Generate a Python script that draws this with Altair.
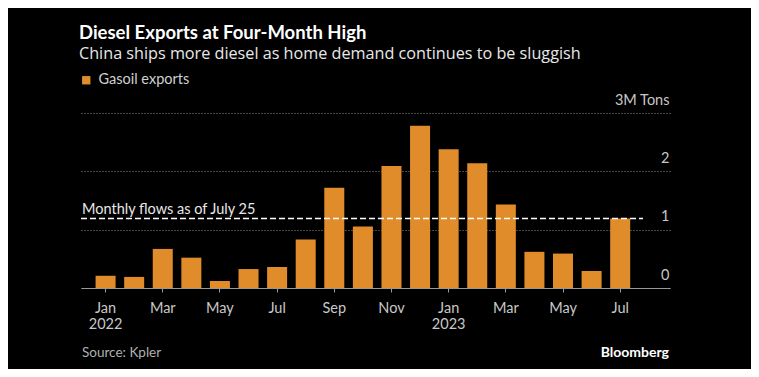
import altair as alt
import pandas as pd

# ---- data ----
months = ["2022-01", "2022-02", "2022-03", "2022-04", "2022-05", "2022-06",
          "2022-07", "2022-08", "2022-09", "2022-10", "2022-11", "2022-12",
          "2023-01", "2023-02", "2023-03", "2023-04", "2023-05", "2023-06",
          "2023-07"]
exports = [0.21, 0.19, 0.67, 0.52, 0.12, 0.325, 0.36, 0.83, 1.72, 1.055,
           2.09, 2.78, 2.38, 2.14, 1.43, 0.62, 0.59, 0.29, 1.19]
tick_months = ["2022-01", "2022-03", "2022-05", "2022-07", "2022-09", "2022-11",
               "2023-01", "2023-03", "2023-05", "2023-07"]
tick_labels = [["Jan", "2022"], ["Mar"], ["May"], ["Jul"], ["Sep"], ["Nov"],
               ["Jan", "2023"], ["Mar"], ["May"], ["Jul"]]
y_ticks = [0, 1, 2, 3]
flow_level = [1.19]
flow_label = ["Monthly flows as of July 25"]
series_name = "Gasoil exports"

df = pd.DataFrame({"month": months, "value": exports, "series": series_name})

FONT = "Lato"
ORANGE = "#e08c2a"
W, H = 589, 175

label_map = "{" + ",".join(
    "'%s':[%s]" % (m, ",".join("'%s'" % t for t in lab))
    for m, lab in zip(tick_months, tick_labels)) + "}"

x_enc = alt.X(
    "month:O", sort=months, title=None,
    scale=alt.Scale(paddingInner=0.30, paddingOuter=0.951, align=0.268),
    axis=alt.Axis(values=tick_months, labelExpr=label_map + "[datum.value]",
                  labelAngle=0, labelFont=FONT, labelFontSize=14.5,
                  labelColor="#c8c8c8", labelPadding=9, labelLineHeight=16.5,
                  tickColor="#999999", tickSize=4, domainColor="#999999",
                  domainWidth=1, grid=False),
)
y_enc = alt.Y(
    "value:Q", title=None,
    scale=alt.Scale(domain=[0, 3], nice=False),
    axis=alt.Axis(orient="right", values=y_ticks, grid=True, gridDash=[1, 2],
                  gridColor="#8a8a8a", gridWidth=1, domain=False, ticks=False,
                  tickSize=0, labelAlign="right", labelPadding=-1,
                  labelBaseline="alphabetic", labelOffset=-9, format="d",
                  labelExpr="datum.value == 3 ? '3M Tons' : datum.label",
                  labelFont=FONT, labelFontSize=14.5, labelColor="#c8c8c8"),
)

bars = alt.Chart(df).mark_bar().encode(
    x=x_enc, y=y_enc,
    color=alt.Color("series:N", scale=alt.Scale(range=[ORANGE]),
                    legend=alt.Legend(orient="none", legendX=-2, legendY=-40,
                                      title=None, symbolType="square",
                                      symbolSize=70, symbolStrokeWidth=0,
                                      labelFont=FONT, labelFontSize=14.5,
                                      labelColor="#d0d0d0", labelOffset=5)),
)

flow_df = pd.DataFrame({"level": flow_level, "label": flow_label})
flow_rule = alt.Chart(flow_df).mark_rule(
    color="white", strokeDash=[6, 3], strokeWidth=1.5
).encode(y="level:Q", x=alt.value(0), x2=alt.value(562))
flow_text = alt.Chart(flow_df).mark_text(
    align="left", baseline="alphabetic", dy=-5, font=FONT, fontSize=14.5,
    color="#e8e8e8"
).encode(y="level:Q", x=alt.value(1), text="label:N")

src_df = pd.DataFrame({"t": ["Source: Kpler"]})
source = alt.Chart(src_df).mark_text(
    align="left", baseline="middle", font=FONT, fontSize=13.5, color="#b0b0b0"
).encode(text="t:N", x=alt.value(1), y=alt.value(240))
brand_df = pd.DataFrame({"t": ["Bloomberg"]})
brand = alt.Chart(brand_df).mark_text(
    align="right", baseline="middle", font=FONT, fontSize=14,
    fontWeight="bold", color="white"
).encode(text="t:N", x=alt.value(588), y=alt.value(240))

chart = alt.layer(bars, flow_rule, flow_text, source, brand).properties(
    width=W, height=H,
    autosize=alt.AutoSizeParams(type="none"),
    padding={"left": 73, "top": 105, "right": 81, "bottom": 81},
    title=alt.TitleParams(
        text="Diesel Exports at Four-Month High",
        subtitle="China ships more diesel as home demand continues to be sluggish",
        anchor="start", font=FONT, fontSize=18.5, fontWeight="bold",
        color="white", subtitleFont="Open Sans", subtitleFontSize=16.2,
        subtitleColor="#e8e8e8", subtitlePadding=3, offset=11,
    ),
).configure(background="#000000").configure_view(stroke=None)

chart.save("out.html", embed_options={"renderer": "svg", "actions": False})
